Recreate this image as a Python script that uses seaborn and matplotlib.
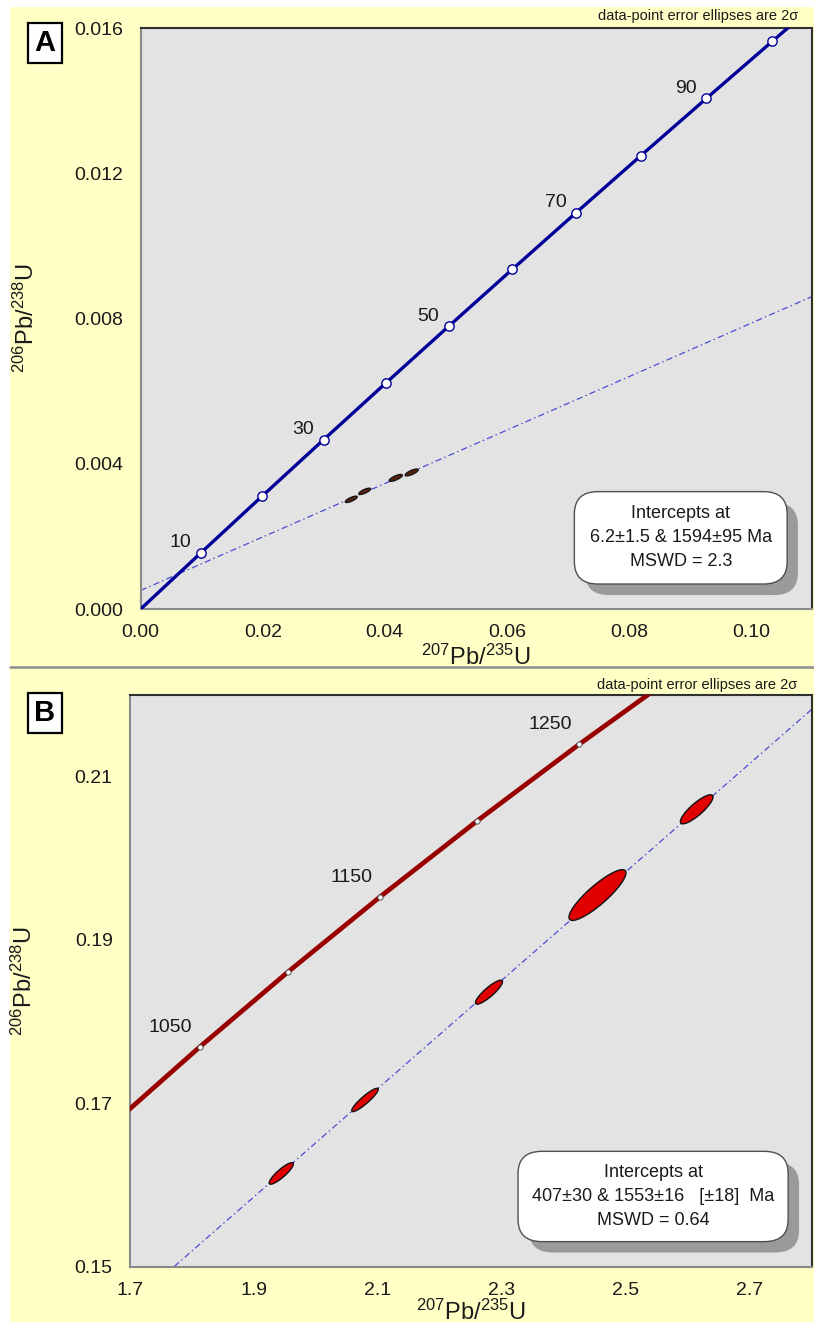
import numpy as np
import pandas as pd
import matplotlib
matplotlib.use("Agg")
import matplotlib.pyplot as plt
import seaborn as sns
from matplotlib.patches import FancyBboxPatch, Rectangle
from matplotlib.lines import Line2D
from matplotlib.ticker import MultipleLocator, FormatStrFormatter

# U decay constants (1/yr)
L238 = 1.55125e-10
L235 = 9.8485e-10

# ---- panel A data ----
curve_ages_a = [0, 10, 20, 30, 40, 50, 60, 70, 80, 90, 100, 110]
tick_ages_a = [10, 20, 30, 40, 50, 60, 70, 80, 90, 100]
label_ages_a = [10, 30, 50, 70, 90]
intercepts_a = [6.2, 1594]
ell_a_x = [0.0345, 0.0367, 0.0418, 0.0444]
ell_a_y = [0.00302, 0.00324, 0.00361, 0.00376]
ell_a_sx = [0.00098, 0.00098, 0.00108, 0.00108]
ell_a_sy = [0.000088, 0.000088, 0.000096, 0.000096]
ell_a_rho = [0.76, 0.76, 0.76, 0.76]
text_a = ["Intercepts at", "6.2\u00b11.5 & 1594\u00b195 Ma", "MSWD = 2.3"]

# ---- panel B data ----
curve_ages_b = [1000, 1050, 1100, 1150, 1200, 1250, 1300]
tick_ages_b = [1050, 1100, 1150, 1200, 1250]
label_ages_b = [1050, 1150, 1250]
intercepts_b = [407, 1553]
ell_b_x = [1.944, 2.079, 2.279, 2.454, 2.614]
ell_b_y = [0.1614, 0.1704, 0.1836, 0.1955, 0.2060]
ell_b_sx = [0.0195, 0.0214, 0.0218, 0.0460, 0.0263]
ell_b_sy = [0.00132, 0.00143, 0.00147, 0.00311, 0.00178]
ell_b_rho = [0.877, 0.911, 0.874, 0.874, 0.847]
text_b = ["Intercepts at", "407\u00b130 & 1553\u00b116   [\u00b118]  Ma", "MSWD = 0.64"]


def concordia(ages_ma):
    t = np.asarray(ages_ma, dtype=float) * 1e6
    return pd.DataFrame({"age": ages_ma,
                         "x": np.exp(L235 * t) - 1,
                         "y": np.exp(L238 * t) - 1})


def ellipse_xy(x, y, sx, sy, rho, n=80):
    t = np.linspace(0, 2 * np.pi, n)
    cov = np.array([[sx ** 2, rho * sx * sy], [rho * sx * sy, sy ** 2]])
    chol = np.linalg.cholesky(cov)
    pts = chol @ np.vstack([np.cos(t), np.sin(t)])
    return x + pts[0], y + pts[1]


def result_box(ax, x0, y0, w, h, lines):
    style = "round,pad=0,rounding_size=0.035"
    shadow = FancyBboxPatch((x0 + 0.016, y0 - 0.019), w, h, boxstyle=style,
                            transform=ax.transAxes, fc="#9a9a9a", ec="none",
                            zorder=5, mutation_aspect=1.1)
    box = FancyBboxPatch((x0, y0), w, h, boxstyle=style, transform=ax.transAxes,
                         fc="white", ec="#505050", lw=1.0, zorder=6, mutation_aspect=1.1)
    ax.add_patch(shadow)
    ax.add_patch(box)
    ax.text(x0 + w / 2, y0 + h / 2, "\n".join(lines), transform=ax.transAxes,
            ha="center", va="center", fontsize=13, linespacing=1.55,
            color="#1a1a1a", zorder=7)


def style_axes(ax, xmaj, xoff, xmin, ymaj, yoff, ymin, xfmt, yfmt):
    ax.set_facecolor("#e3e3e3")
    ax.xaxis.set_major_locator(MultipleLocator(xmaj, offset=xoff))
    ax.xaxis.set_minor_locator(MultipleLocator(xmin))
    ax.yaxis.set_major_locator(MultipleLocator(ymaj, offset=yoff))
    ax.yaxis.set_minor_locator(MultipleLocator(ymin))
    ax.xaxis.set_major_formatter(FormatStrFormatter(xfmt))
    ax.yaxis.set_major_formatter(FormatStrFormatter(yfmt))
    ax.tick_params(which="both", direction="in", length=5, width=1, color="#8a8a8a",
                   top=False, right=False, labelsize=14, labelcolor="#1a1a1a")
    ax.tick_params(axis="y", which="major", pad=12.5)
    ax.tick_params(axis="x", which="major", pad=11)
    for side in ["left", "bottom"]:
        ax.spines[side].set_color("#8a8a8a")
        ax.spines[side].set_linewidth(1.5)
    for side in ["top", "right"]:
        ax.spines[side].set_color("#303030")
        ax.spines[side].set_linewidth(1.5)
    ax.grid(False)


sns.set_style("white")
plt.rcParams["font.family"] = ["Liberation Sans", "DejaVu Sans"]
plt.rcParams["mathtext.fontset"] = "custom"
plt.rcParams["mathtext.rm"] = "Liberation Sans"
plt.rcParams["mathtext.it"] = "Liberation Sans"

W, H = 814, 1329
fig = plt.figure(figsize=(W / 100, H / 100), dpi=100, facecolor="white")

# yellow panel backgrounds and divider
fig.add_artist(Rectangle((10 / W, 1 - 666 / H), 1, 659 / H, transform=fig.transFigure,
                         fc="#ffffc6", ec="none", zorder=-2))
fig.add_artist(Rectangle((10 / W, 1 - 1322 / H), 1, 654 / H, transform=fig.transFigure,
                         fc="#ffffc6", ec="none", zorder=-2))
fig.add_artist(Line2D([10 / W, 1], [1 - 667 / H, 1 - 667 / H], transform=fig.transFigure,
                      color="#8c8c8c", lw=1.8, zorder=-1))

ax_a = fig.add_axes([140.7 / W, 1 - 609 / H, 671.3 / W, 581 / H])
ax_b = fig.add_axes([130 / W, 1 - 1266.5 / H, 682 / W, 571.5 / H])

xlabel = r"$^{\mathrm{207}}$Pb/$^{\mathrm{235}}$U"
ylabel = r"$^{\mathrm{206}}$Pb/$^{\mathrm{238}}$U"
note = "data-point error ellipses are 2\u03c3"
disc_style = dict(color="#4b4bd6", lw=0.9, ls=(0, (5, 2.5, 1.2, 2.5)), zorder=2)

# ---------------- panel A ----------------
ca = concordia(curve_ages_a)
ta = concordia(tick_ages_a)
la = concordia(label_ages_a)
ia = concordia(intercepts_a)
ax_a.axline((ia.x[0], ia.y[0]), (ia.x[1], ia.y[1]), **disc_style)
sns.lineplot(data=ca, x="x", y="y", ax=ax_a, color="#000099", lw=2.4,
             sort=False, estimator=None, zorder=3)
sns.scatterplot(data=ta, x="x", y="y", ax=ax_a, s=45, color="white",
                edgecolor="#000099", linewidth=1.0, zorder=4)
for _, r in la.iterrows():
    ax_a.annotate(f"{int(r.age)}", (r.x, r.y), xytext=(-15, 7), textcoords="offset points",
                  ha="center", va="center", fontsize=14, color="#1a1a1a")
for x, y, sx, sy, rho in zip(ell_a_x, ell_a_y, ell_a_sx, ell_a_sy, ell_a_rho):
    ex, ey = ellipse_xy(x, y, sx, sy, rho)
    ax_a.fill(ex, ey, fc="#5a2210", ec="#111111", lw=0.9, zorder=4)

ax_a.set_xlim(0, 0.11)
ax_a.set_ylim(0, 0.016)
style_axes(ax_a, 0.02, 0.0, 0.01, 0.004, 0.0, 0.002, "%.2f", "%.3f")
ax_a.set_xlabel(xlabel, fontsize=17, color="#1a1a1a")
ax_a.set_ylabel(ylabel, fontsize=17, color="#1a1a1a")
ax_a.xaxis.set_label_coords(0.5, -0.062)
ax_a.yaxis.set_label_coords(-0.152, 0.5)
ax_a.text(0.979, 1.021, note, transform=ax_a.transAxes, ha="right", va="center",
          fontsize=10.5, color="#1a1a1a")
result_box(ax_a, 0.646, 0.043, 0.317, 0.159, text_a)

# ---------------- panel B ----------------
cb = concordia(curve_ages_b)
tb = concordia(tick_ages_b)
lb = concordia(label_ages_b)
ib = concordia(intercepts_b)
ax_b.axline((ib.x[0], ib.y[0]), (ib.x[1], ib.y[1]), **disc_style)
sns.lineplot(data=cb, x="x", y="y", ax=ax_b, color="#990000", lw=3.4,
             sort=False, estimator=None, zorder=3)
sns.scatterplot(data=tb, x="x", y="y", ax=ax_b, s=14, color="white",
                edgecolor="#555555", linewidth=0.7, zorder=4)
for _, r in lb.iterrows():
    ax_b.annotate(f"{int(r.age)}", (r.x, r.y), xytext=(-21, 14), textcoords="offset points",
                  ha="center", va="center", fontsize=14, color="#1a1a1a")
for x, y, sx, sy, rho in zip(ell_b_x, ell_b_y, ell_b_sx, ell_b_sy, ell_b_rho):
    ex, ey = ellipse_xy(x, y, sx, sy, rho)
    ax_b.fill(ex, ey, fc="#e00000", ec="#111111", lw=1.0, zorder=4)

ax_b.set_xlim(1.7, 2.8)
ax_b.set_ylim(0.15, 0.22)
style_axes(ax_b, 0.2, 0.1, 0.1, 0.02, 0.01, 0.01, "%.1f", "%.2f")
ax_b.set_xlabel(xlabel, fontsize=17, color="#1a1a1a")
ax_b.set_ylabel(ylabel, fontsize=17, color="#1a1a1a")
ax_b.xaxis.set_label_coords(0.5, -0.058)
ax_b.yaxis.set_label_coords(-0.137, 0.5)
ax_b.text(0.978, 1.0175, note, transform=ax_b.transAxes, ha="right", va="center",
          fontsize=10.5, color="#1a1a1a")
result_box(ax_b, 0.569, 0.0435, 0.396, 0.158, text_b)

# panel letters
for label, ypix in [("A", 43), ("B", 713)]:
    fig.text(45 / W, 1 - ypix / H, label, ha="center", va="center", fontsize=21,
             fontweight="bold", color="black",
             bbox=dict(boxstyle="square,pad=0.22", fc="white", ec="black", lw=1.6))

fig.savefig("out.png", dpi=100, facecolor="white")
